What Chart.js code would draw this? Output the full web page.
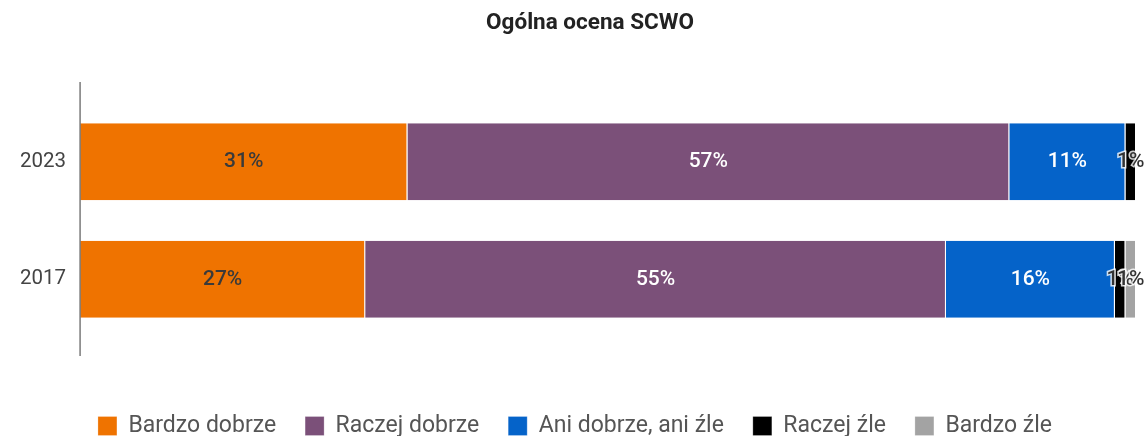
<!DOCTYPE html>
<html>
<head>
<meta charset="utf-8">
<script src="https://cdn.jsdelivr.net/npm/chart.js@4"></script>
<style>
  html, body { margin: 0; padding: 0; background: #fff; }
  #wrap { width: 1147px; height: 436px; }
</style>
</head>
<body>
<div id="wrap"><canvas id="chart"></canvas></div>
<script>
const years = ["2023", "2017"];
const seriesNames = ["Bardzo dobrze", "Raczej dobrze", "Ani dobrze, ani źle", "Raczej źle", "Bardzo źle"];
const bardzoDobrze = [31, 27];
const raczejDobrze = [57, 55];
const aniDobrzeAniZle = [11, 16];
const raczejZle = [1, 1];
const bardzoZle = [0, 1];

const colors = ["#EF7300", "#7B5079", "#0563C9", "#000000", "#A3A3A3"];
const labelColors = ["#3a3a3a", "#ffffff", "#ffffff", "#333333", "#333333"];
const allSeries = [bardzoDobrze, raczejDobrze, aniDobrzeAniZle, raczejZle, bardzoZle];

// Etykiety wartości na segmentach
const valueLabels = {
    id: "valueLabels",
    afterDatasetsDraw(chart) {
        const ctx = chart.ctx;
        ctx.save();
        ctx.font = "500 21px Roboto";
        ctx.textAlign = "center";
        ctx.textBaseline = "middle";
        chart.data.datasets.forEach((ds, di) => {
            const meta = chart.getDatasetMeta(di);
            meta.data.forEach((bar, i) => {
                const v = ds.data[i];
                if (!v) return;
                const x = (bar.x + bar.base) / 2;
                const txt = v + "%";
                if (di >= 3) {
                    ctx.lineWidth = 3;
                    ctx.strokeStyle = "rgba(255,255,255,0.8)";
                    ctx.strokeText(txt, x, bar.y);
                }
                ctx.fillStyle = labelColors[di];
                ctx.fillText(txt, x, bar.y);
            });
        });
        ctx.restore();
    }
};

// Tytuł i oś pionowa
const decor = {
    id: "decor",
    afterDraw(chart) {
        const ctx = chart.ctx;
        const a = chart.chartArea;
        ctx.save();
        ctx.font = "bold 22.5px Roboto";
        ctx.fillStyle = "#222";
        ctx.textAlign = "center";
        ctx.textBaseline = "middle";
        ctx.fillText("Ogólna ocena SCWO", 590, 23);
        ctx.strokeStyle = "#7a7a7a";
        ctx.lineWidth = 1.5;
        ctx.beginPath();
        ctx.moveTo(a.left, a.top - 21);
        ctx.lineTo(a.left, a.bottom + 18);
        ctx.stroke();
        ctx.restore();
    }
};

new Chart(document.getElementById("chart"), {
    type: "bar",
    data: {
        labels: years,
        datasets: seriesNames.map((name, i) => ({
            label: name,
            data: allSeries[i],
            backgroundColor: colors[i],
            borderColor: "#ffffff",
            borderWidth: { left: 0, right: 1, top: 0, bottom: 0 },
            borderSkipped: false,
            barPercentage: 0.655,
            categoryPercentage: 1
        }))
    },
    options: {
        indexAxis: "y",
        responsive: true,
        maintainAspectRatio: false,
        animation: false,
        layout: { padding: { top: 103, left: 14, right: 11, bottom: -11.5 } },
        scales: {
            x: {
                stacked: true,
                min: 0,
                max: 100,
                ticks: { display: false },
                grid: { display: false },
                border: { display: false },
                afterFit: (scale) => { scale.height = 47.5; }
            },
            y: {
                stacked: true,
                ticks: { color: "#444", font: { family: "Roboto", size: 20.5 }, padding: 6 },
                grid: { display: false },
                border: { display: false }
            }
        },
        plugins: {
            title: { display: false },
            tooltip: { enabled: false },
            legend: {
                position: "bottom",
                labels: {
                    color: "#555",
                    font: { family: "Roboto", size: 23, lineHeight: 1 },
                    boxWidth: 19,
                    boxHeight: 19,
                    padding: 29
                }
            }
        }
    },
    plugins: [valueLabels, decor]
});
</script>
</body>
</html>
